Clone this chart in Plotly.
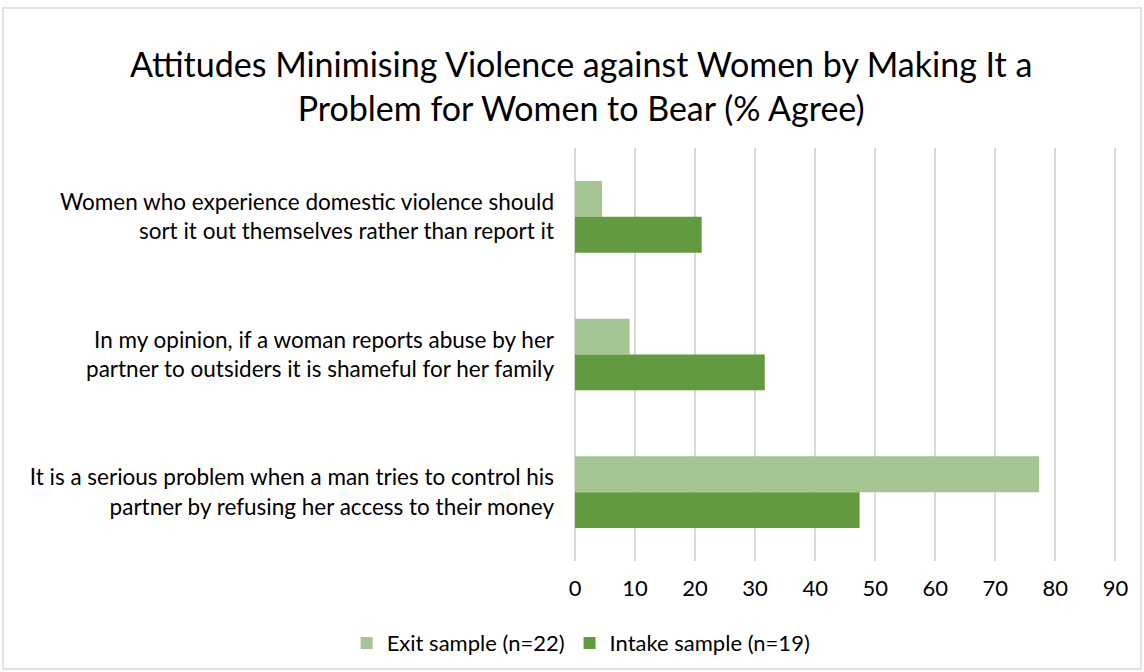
import plotly.graph_objects as go

# Statements, listed top to bottom as they appear on the chart
statements = [
    "Women who experience domestic violence should<br>sort it out themselves rather than report it",
    "In my opinion, if a woman reports abuse by her<br>partner to outsiders it is shameful for her family",
    "It is a serious problem when a man tries to control his<br>partner by refusing her access to their money",
]
exit_pct = [4.5, 9.1, 77.3]      # Exit sample (n=22)
intake_pct = [21.1, 31.6, 47.4]  # Intake sample (n=19)
x_ticks = [0, 10, 20, 30, 40, 50, 60, 70, 80, 90]

FONT = "Lato, 'Open Sans', sans-serif"

fig = go.Figure()
fig.add_trace(go.Bar(
    y=statements, x=exit_pct, orientation="h",
    name="Exit sample (n=22)", marker=dict(color="#A5C593", line=dict(width=0)),
))
fig.add_trace(go.Bar(
    y=statements, x=intake_pct, orientation="h",
    name="Intake sample (n=19)", marker=dict(color="#629A3F", line=dict(width=0)),
))

fig.update_layout(
    width=1144, height=672,
    margin=dict(l=575, r=25, t=148, b=111),
    paper_bgcolor="white", plot_bgcolor="white",
    font=dict(family=FONT, color="#000000", size=22),
    barmode="group", bargap=0.48, bargroupgap=0,
    title=dict(
        text="Attitudes Minimising Violence against Women by Making It a<br>Problem for Women to Bear (% Agree)",
        x=0.508, xanchor="center", y=0.885, yanchor="middle",
        font=dict(size=34, family=FONT, color="#000000"),
    ),
    xaxis=dict(
        range=[0, 90.6], tickvals=x_ticks, ticktext=[str(v) for v in x_ticks],
        showgrid=True, gridcolor="#D9D9D9", gridwidth=1.5,
        zeroline=True, zerolinecolor="#D9D9D9", zerolinewidth=1.5,
        showline=False, ticks="",
        ticklabelstandoff=12, tickfont=dict(size=22),
    ),
    yaxis=dict(
        autorange="reversed", showgrid=False, showline=False, ticks="",
        ticklabelstandoff=20, tickfont=dict(size=22.5),
    ),
    legend=dict(
        orientation="h", xref="container", yref="container",
        x=0.508, xanchor="center", y=0.043, yanchor="middle",
        font=dict(size=22), itemwidth=30, traceorder="normal",
    ),
    shapes=[dict(
        type="rect", xref="paper", yref="paper",
        x0=(3 - 575) / 544, x1=(1141 - 575) / 544,
        y0=(561 - 669) / 413, y1=(561 - 8) / 413,
        line=dict(color="#D9D9D9", width=1.5), fillcolor="rgba(0,0,0,0)",
        layer="below",
    )],
)

fig.write_html("out.html")
